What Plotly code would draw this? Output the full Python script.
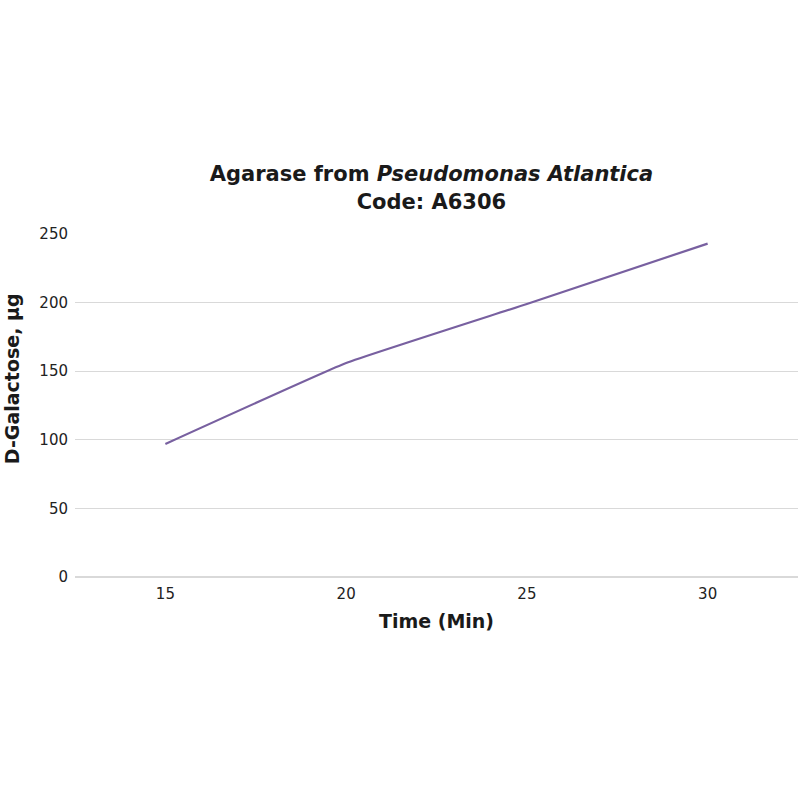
import plotly.graph_objects as go

# time points (min) and measured D-galactose (ug)
time_min = ["15", "20", "25", "30"]
galactose_ug = [97, 156, 199, 243]
y_ticks = [0, 50, 100, 150, 200, 250]

font_family = "DejaVu Sans, Verdana, sans-serif"

fig = go.Figure()
fig.add_trace(go.Scatter(x=time_min, y=galactose_ug, mode="lines",
                         line=dict(color="#7860a0", width=2.2, shape="spline", smoothing=0.3),
                         showlegend=False))

fig.update_layout(
    width=800, height=800,
    paper_bgcolor="white", plot_bgcolor="white",
    margin={"l": 75, "r": 2, "t": 234, "b": 223},
    font=dict(family=font_family, color="#222222", size=14),
    title=dict(text="Agarase from <i>Pseudomonas Atlantica</i><br>Code: A6306",
               xref="paper", x=0.493, xanchor="center", y=0.7735, yanchor="middle",
               font=dict(size=21, family=font_family, color="#1a1a1a", weight="bold")),
)
# y title sits a little above the plot centre in the original, so place it by hand
fig.add_annotation(text="D-Galactose, µg", textangle=-90, showarrow=False,
                   xref="paper", yref="paper", x=-0.087, y=0.577,
                   xanchor="center", yanchor="middle",
                   font=dict(size=19, family=font_family, weight="bold", color="#1a1a1a"))
fig.update_xaxes(type="category", range=[-0.5, 3.5], showgrid=False, showline=False,
                 ticks="", tickfont=dict(size=15), ticklabelstandoff=6,
                 title=dict(text="Time (Min)", standoff=12,
                            font=dict(size=19, family=font_family, weight="bold", color="#1a1a1a")))
fig.update_yaxes(range=[0, 250], tickvals=y_ticks, showgrid=True, gridcolor="#d9d9d9",
                 gridwidth=1, zeroline=True, zerolinecolor="#d9d9d9", showline=False,
                 ticks="", tickfont=dict(size=15), ticklabelstandoff=6)

# drop the default body margin so the 800x800 figure fills the window
fig.write_html("out.html", config={"displayModeBar": False},
               post_script="document.body.style.margin='0';")
